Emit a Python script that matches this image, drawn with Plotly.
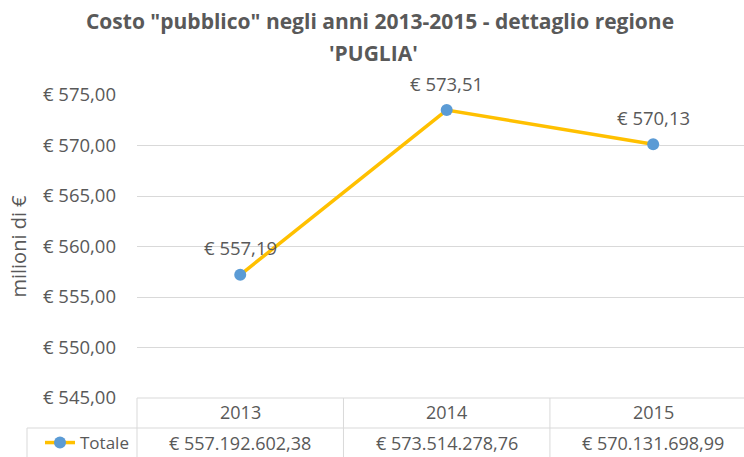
import plotly.graph_objects as go

years = ["2013", "2014", "2015"]
totale_eur = [557192602.38, 573514278.76, 570131698.99]
y_ticks = [545, 550, 555, 560, 565, 570, 575]
series_name = "Totale"
title_lines = ["Costo \"pubblico\" negli anni 2013-2015 - dettaglio regione", "'PUGLIA'"]
y_title = "milioni di €"


def it_num(v, dec=2):
    s = f"{v:,.{dec}f}"
    return s.replace(",", "X").replace(".", ",").replace("X", ".")


vals_m = [v / 1e6 for v in totale_eur]
xs = list(range(len(years)))
FONT = "Open Sans, sans-serif"
GRAY = "#595959"
LINEC = "#D9D9D9"

W, H = 744, 457
ML, MR, MT, MB = 137, 0, 95, 59
XR = [-0.5, 2.44]
plot_h = H - MT - MB
plot_w = W - ML - MR


def xp(v):
    return (v - XR[0]) / (XR[1] - XR[0])


def yp(px_below):
    return -px_below / plot_h


fig = go.Figure()
fig.add_trace(go.Scatter(
    x=xs, y=vals_m, mode="lines+markers", name=series_name,
    line=dict(color="#FFC000", width=3.5),
    marker=dict(color="#5B9BD5", size=12),
    cliponaxis=False,
))

shapes = []
shapes.append(dict(type="line", xref="paper", yref="paper", x0=0, x1=1, y0=0, y1=0,
                   line=dict(color=LINEC, width=1)))
shapes.append(dict(type="line", xref="paper", yref="paper", x0=-110 / plot_w, x1=1,
                   y0=yp(30), y1=yp(30), line=dict(color=LINEC, width=1)))
shapes.append(dict(type="line", xref="paper", yref="paper", x0=-110 / plot_w, x1=-110 / plot_w,
                   y0=yp(30), y1=yp(60), line=dict(color=LINEC, width=1)))
for b in [-0.5, 0.5, 1.5]:
    shapes.append(dict(type="line", xref="paper", yref="paper", x0=xp(b), x1=xp(b),
                       y0=0, y1=yp(60), line=dict(color=LINEC, width=1)))

annotations = []
for i, v in enumerate(vals_m):
    annotations.append(dict(x=i, xref="x", y=v, yref="y", text="€ " + it_num(v),
                            showarrow=False, yanchor="middle", yshift=27,
                            font=dict(size=18.5, color=GRAY, family=FONT)))
for i, yr in enumerate(years):
    annotations.append(dict(x=i, xref="x", y=yp(14), yref="paper", text=yr,
                            showarrow=False, yanchor="middle",
                            font=dict(size=18, color=GRAY, family=FONT)))
    annotations.append(dict(x=i, xref="x", y=yp(45), yref="paper",
                            text="€ " + it_num(totale_eur[i]),
                            showarrow=False, yanchor="middle",
                            font=dict(size=18, color=GRAY, family=FONT)))
annotations.append(dict(x=(373 - ML) / plot_w, xref="paper", y=1 + (MT - 53) / plot_h, yref="paper",
                        text="<b>" + title_lines[1] + "</b>", showarrow=False,
                        xanchor="center", yanchor="middle",
                        font=dict(size=21, color=GRAY, family=FONT)))

fig.update_layout(
    width=W, height=H,
    margin=dict(l=ML, r=MR, t=MT, b=MB, autoexpand=False),
    paper_bgcolor="white", plot_bgcolor="white",
    font=dict(family=FONT, color=GRAY),
    title=dict(text="<b>" + title_lines[0] + "</b>",
               x=380 / W, xanchor="center", xref="container", y=1 - 22 / H, yanchor="middle",
               yref="container",
               font=dict(size=21, color=GRAY, family=FONT)),
    xaxis=dict(range=XR, showticklabels=False, showgrid=False, zeroline=False,
               showline=False, ticks=""),
    yaxis=dict(range=[y_ticks[0], y_ticks[-1]], tickvals=y_ticks,
               ticktext=["€ " + it_num(t) for t in y_ticks],
               showgrid=True, gridcolor=LINEC, gridwidth=1, zeroline=False,
               showline=False, ticks="", ticklabelstandoff=20,
               tickfont=dict(size=18.5, color=GRAY, family=FONT),
               title=dict(text=y_title, standoff=10,
                          font=dict(size=20, color=GRAY, family=FONT))),
    showlegend=True,
    legend=dict(x=-97 / plot_w, xanchor="left", y=yp(45), yanchor="middle",
                xref="paper", yref="paper", bgcolor="rgba(0,0,0,0)",
                font=dict(size=17, color=GRAY, family=FONT),
                itemwidth=30),
    shapes=shapes,
    annotations=annotations,
)

fig.write_html("out.html", config={"displayModeBar": False},
               post_script="document.body.style.margin='0';")
